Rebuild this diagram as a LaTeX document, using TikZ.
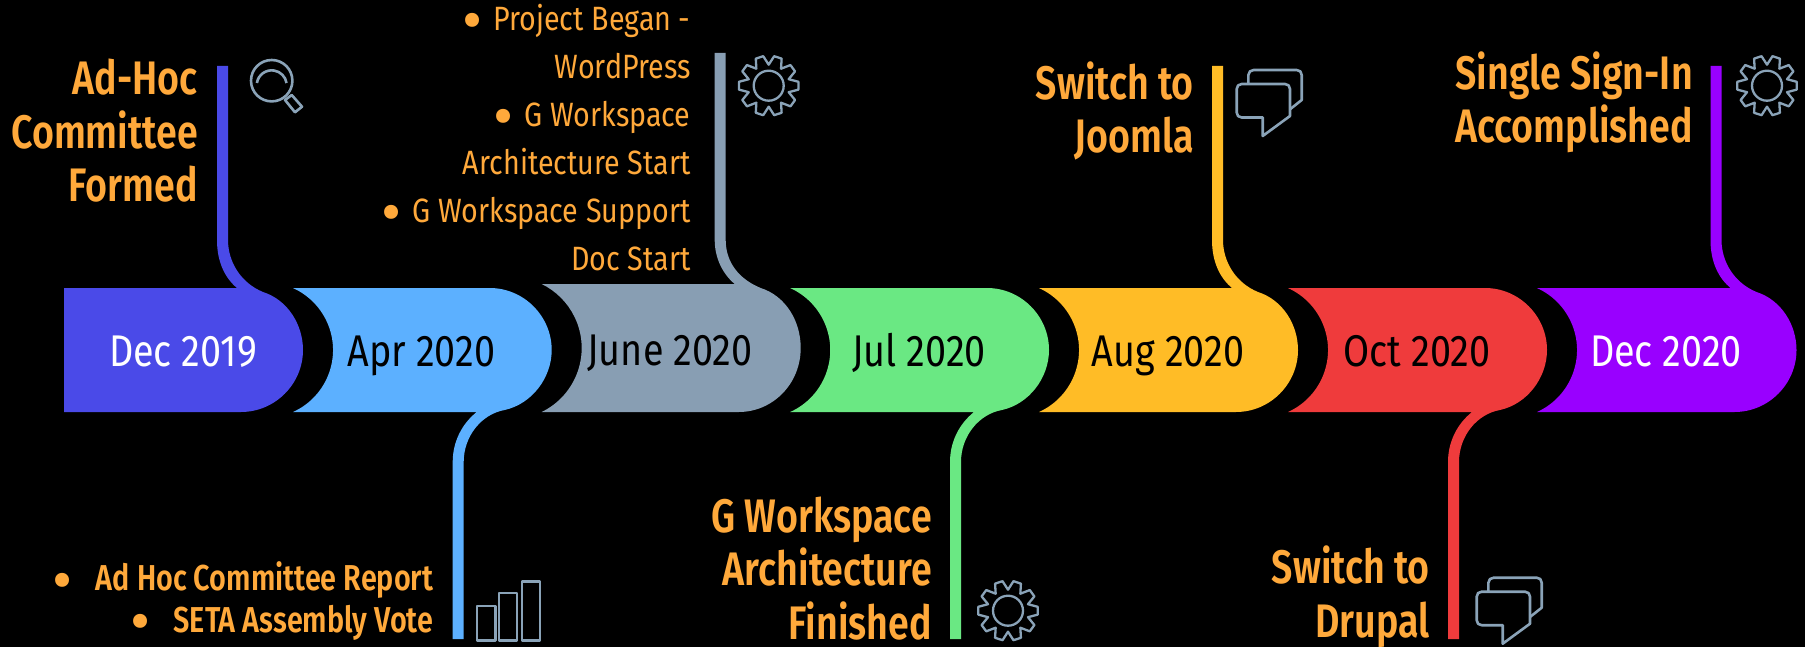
\documentclass[tikz,border=0pt]{standalone}
\usepackage{fontspec}
\setmainfont[FakeStretch=0.85,BoldFont={Fira Sans SemiBold},BoldFeatures={FakeStretch=0.80}]{Fira Sans}
\newfontfamily\bulfont{Fira Sans}
\definecolor{cA}{HTML}{4A4AE8}
\definecolor{cB}{HTML}{5CB0FF}
\definecolor{cC}{HTML}{889EB3}
\definecolor{cD}{HTML}{6AE883}
\definecolor{cE}{HTML}{FFBC26}
\definecolor{cF}{HTML}{EF3B3C}
\definecolor{cG}{HTML}{9900FF}
\definecolor{orangetxt}{HTML}{FFA93B}
\definecolor{iconc}{HTML}{8AA3B8}
\tikzset{
  datelabel/.style={font=\fontsize{44.4}{50}\selectfont,inner sep=0pt,anchor=base},
  titletext/.style={font=\fontsize{47}{53.5}\selectfont\bfseries,text=orangetxt,inner sep=0pt,anchor=base east,align=right},
  listtext/.style={font=\fontsize{33.7}{48}\selectfont,text=orangetxt,inner sep=0pt,anchor=base east,align=right},
  listbold/.style={font=\fontsize{36}{41.5}\selectfont\bfseries,text=orangetxt,inner sep=0pt,anchor=base east,align=right},
  icon/.style={draw=iconc,line width=2.6pt,line join=round,fill=none}
}
\newcommand\bul[1]{{\fontsize{62}{48}\bulfont\mdseries\raisebox{-10.5pt}{•}}\hspace*{#1pt}}
% L, R, top, stem top, colour, left end
\newcommand\shapeUp[6]{%
  \fill[#5] (#1,#3) -- (#2-66,#3) .. controls (#2-78,#3-10) and (#2-86,#3-26) .. (#2-86,240)
    -- (#2-86,#4) -- (#2-75,#4) -- (#2-75,240)
    .. controls (#2-75,262) and (#2-62,#3-5) .. (#2-40,#3+4)
    .. controls (#2-15,#3+12) and (#2,#3+37) .. (#2,{(#3+412)/2})
    .. controls (#2,384) and (#2-28,412) .. (#2-62,412) -- (#1,412) #6 -- cycle;}
% L, R, colour
\newcommand\shapeDown[3]{%
  \fill[#3] (#1,288) -- (#2-62,288) .. controls (#2-28,288) and (#2,316) .. (#2,350)
    .. controls (#2,378) and (#2-20,404) .. (#2-47,410)
    .. controls (#2-70,414) and (#2-88,436) .. (#2-88,462)
    -- (#2-88,639) -- (#2-99,639) -- (#2-99,462)
    .. controls (#2-99,442) and (#2-90,424) .. (#2-75,412)
    -- (#1,412) arc[start angle=-65.7,end angle=65.7,radius=68pt] -- cycle;}
\newcommand\gearicon[2]{%
  \begin{scope}[shift={(#1,#2)}]
    \draw[icon,line width=2.3pt] (-7.5:30pt) foreach \a in {0,36,...,324} {-- (\a-7.5:30pt) -- (\a+7.5:30pt) -- (\a+18:21pt)} -- cycle;
    \draw[icon,line width=2.3pt] (0,0) circle[radius=15pt];
  \end{scope}}
\newcommand\bubbleicon[2]{%
  \begin{scope}[shift={(#1,#2)}]
    \draw[icon] (11.7,0) -- (11.7,-9) .. controls (11.7,-12) and (14,-14) .. (17,-14) -- (60,-14)
      .. controls (63,-14) and (65,-12) .. (65,-9) -- (65,16) -- (53.3,25.3);
    \draw[icon] (5,0) -- (48.3,0) .. controls (51.3,0) and (53.3,2) .. (53.3,5) -- (53.3,32) -- (26,52)
      -- (26,33.5) -- (5,33.5) .. controls (2,33.5) and (0,31.5) .. (0,28.5) -- (0,5) .. controls (0,2) and (2,0) .. (5,0) -- cycle;
  \end{scope}}
\begin{document}
\begin{tikzpicture}[x=1pt,y=-1pt]
\useasboundingbox (0,0) rectangle (1805,647);
\fill[black] (0,0) rectangle (1805,647);

% ribbon segments
\shapeUp{64}{303}{288}{66}{cA}{}
\shapeDown{293}{551.7}{cB}
\shapeUp{541.7}{800.7}{284}{53}{cC}{arc[start angle=-64,end angle=64,radius=71.2pt]}
\shapeDown{790.2}{1049}{cD}
\shapeUp{1039}{1298}{288}{66}{cE}{arc[start angle=-65.7,end angle=65.7,radius=68pt]}
\shapeDown{1288}{1547}{cF}
\shapeUp{1537}{1796.5}{288}{66}{cG}{arc[start angle=-65.7,end angle=65.7,radius=68pt]}

% dates
\node[datelabel,text=white] (d1) at (183,366.7) {Dec 2019};
\node[datelabel,text=black] (d2) at (421.5,366.7) {Apr 2020};
\node[datelabel,text=black] (d3) at (670,365) {June 2020};
\node[datelabel,text=black] (d4) at (919,366.7) {Jul 2020};
\node[datelabel,text=black] (d5) at (1168,366.7) {Aug 2020};
\node[datelabel,text=black] (d6) at (1417,366.7) {Oct 2020};
\node[datelabel,text=white] (d7) at (1666,366.7) {Dec 2020};

% titles
\node[titletext] (t1) at (198,202) {Ad-Hoc\\Committee\\Formed};
\node[listtext] (t3) at (690.7,270.7) {\bul{11}Project Began -\\WordPress\\\bul{11}G Workspace\\Architecture Start\\\bul{11}G Workspace Support\\Doc Start};
\node[listbold] (t2) at (433.5,632) {\bul{23}Ad Hoc Committee Report\\\bul{23}SETA Assembly Vote};
\node[titletext] (t4) at (932,639) {G Workspace\\Architecture\\Finished};
\node[titletext] (t5) at (1194,152.7) {Switch to\\Joomla};
\node[titletext] (t6) at (1430,637) {Switch to\\Drupal};
\node[titletext] (t7) at (1693,142.7) {Single Sign-In\\Accomplished};

% icons
\draw[icon] (271.7,80.7) circle[radius=20.7pt];
\draw[icon] (256.9,83) arc[start angle=171,end angle=9,radius=15pt];
\draw[icon] (285,100) -- (291.7,95) -- (302,106.7) -- (295,112.3) -- cycle;
\gearicon{768.7}{85.7}
\gearicon{1008}{610.7}
\gearicon{1767}{85.7}
\bubbleicon{1236.7}{84}
\bubbleicon{1476.7}{591.7}
\draw[icon] (477,606) rectangle (495.6,640.7);
\draw[icon] (499,593) rectangle (517,640.7);
\draw[icon] (522,581.7) rectangle (540,640.7);
\end{tikzpicture}
\end{document}
